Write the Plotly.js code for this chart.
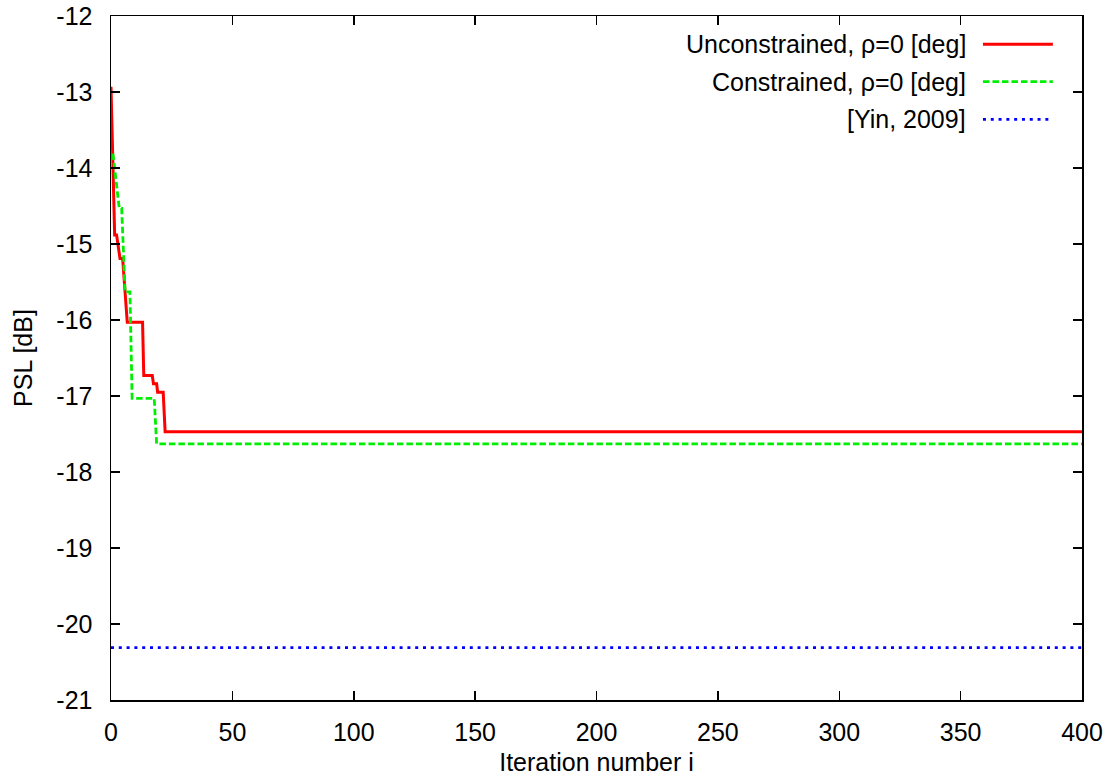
<!DOCTYPE html>
<html>
<head>
<meta charset="utf-8">
<script src="https://cdn.plot.ly/plotly-3.0.1.min.js"></script>
<style>html,body{margin:0;padding:0;background:#fff;}#chart{width:1112px;height:776px;}</style>
</head>
<body>
<div id="chart"></div>
<script>
// Series names
const seriesNames = ["Unconstrained, \u03c1=0 [deg]", "Constrained, \u03c1=0 [deg]", "[Yin, 2009]"];
// Unconstrained
const unconX = [0, 1.5, 2.3, 3.7, 4.8, 6.7, 13, 13.5, 17, 17.5, 18.8, 19.2, 21.5, 22.3, 400];
const unconY = [-12.93, -14.88, -14.88, -15.19, -15.19, -16.03, -16.03, -16.73, -16.73, -16.84, -16.84, -16.95, -16.95, -17.47, -17.47];
// Constrained
const conX = [0.8, 3.4, 4.4, 5.8, 7.8, 8.7, 17.8, 18.8, 400];
const conY = [-13.81, -14.53, -14.53, -15.63, -15.63, -17.03, -17.03, -17.63, -17.63];
// Yin 2009 reference level
const yinX = [0, 400];
const yinY = [-20.31, -20.31];
// Axis ticks
const xTicks = [0, 50, 100, 150, 200, 250, 300, 350, 400];
const yTicks = [-21, -20, -19, -18, -17, -16, -15, -14, -13, -12];

const colors = ["#ff0000", "#00ee00", "#0000ff"];
const widths = [3, 2.8, 2.8];
const dashes = ["solid", "6.5px,3px", "3px,4.8px"];

const traces = [
  {x: unconX, y: unconY, mode: "lines", name: seriesNames[0], line: {color: colors[0], width: widths[0], dash: dashes[0]}},
  {x: conX, y: conY, mode: "lines", name: seriesNames[1], line: {color: colors[1], width: widths[1], dash: dashes[1]}},
  {x: yinX, y: yinY, mode: "lines", name: seriesNames[2], line: {color: colors[2], width: widths[2], dash: dashes[2]}}
];

const font = {family: "Liberation Sans, Arial, sans-serif", size: 25, color: "#000"};
const legY = [0.9586, 0.904, 0.849];
const annotations = seriesNames.map((n, i) => ({
  xref: "paper", yref: "paper", x: 0.883, y: legY[i], xanchor: "right", yanchor: "middle",
  text: n, showarrow: false, font: font
}));
const shapes = seriesNames.map((n, i) => ({
  type: "line", xref: "paper", yref: "paper", x0: 0.898, x1: 0.970, y0: legY[i], y1: legY[i],
  line: {color: colors[i], width: widths[i], dash: dashes[i]}
}));

const axisCommon = {
  showgrid: false, zeroline: false, showline: true, linecolor: "#000", linewidth: 1.5,
  mirror: "allticks", ticks: "inside", ticklen: 9, tickwidth: 1.5, tickcolor: "#000",
  tickfont: font
};

const layout = {
  width: 1112, height: 776,
  margin: {l: 111, r: 30, t: 16, b: 76},
  paper_bgcolor: "#fff", plot_bgcolor: "#fff",
  showlegend: false,
  font: font,
  xaxis: Object.assign({}, axisCommon, {
    range: [0, 400], tickvals: xTicks, ticktext: xTicks.map(String),
    ticklabelstandoff: 9,
    title: {text: "Iteration number i", font: font, standoff: 10}
  }),
  yaxis: Object.assign({}, axisCommon, {
    range: [-21, -12], tickvals: yTicks, ticktext: yTicks.map(String),
    ticklabelstandoff: 12,
    title: {text: "PSL [dB]", font: font, standoff: 16}
  }),
  annotations: annotations,
  shapes: shapes
};

Plotly.newPlot("chart", traces, layout, {displayModeBar: false, staticPlot: true});
</script>
</body>
</html>
